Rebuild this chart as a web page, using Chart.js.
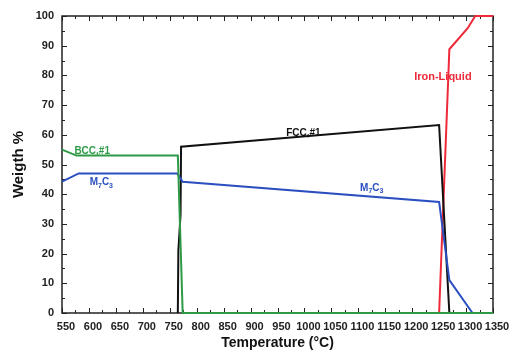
<!DOCTYPE html>
<html>
<head>
<meta charset="utf-8">
<script src="https://cdn.jsdelivr.net/npm/chart.js@4.4.0/dist/chart.umd.min.js"></script>
<style>
  body { margin: 0; background: #fff; }
  #wrap { width: 514px; height: 352px; }
</style>
</head>
<body>
<div id="wrap"><canvas id="phase" width="514" height="352"></canvas></div>
<script>
// temperature (°C) and weight %
const bccT = [550, 577, 765, 774, 1350];
const bccW = [55, 53, 53, 0, 0];
const m7c3T = [550, 581, 764, 774, 1250, 1269, 1312, 1350];
const m7c3W = [44.2, 47, 47, 44.2, 37.4, 11.1, 0, 0];
const fccT = [765, 766, 770, 771, 1250, 1269, 1350];
const fccW = [0, 21, 33, 56, 63.3, 0, 0];
const liqT = [1250, 1269, 1303, 1317, 1350];
const liqW = [0, 88.8, 95.9, 100, 100];

// curve labels ("_" marks a subscript digit)
const labelText = ["BCC,#1", "M_7C_3", "FCC,#1", "M_7C_3", "Iron-Liquid"];
const labelT = [606, 623, 998, 1125, 1257];
const labelW = [54.6, 43.9, 60.5, 42.1, 79.6];

const GREEN = "#2e9a46", BLUE = "#2b4fc0", BLACK = "#111111", RED = "#ee2a3a";
const labelColor = [GREEN, BLUE, BLACK, BLUE, RED];
const FONT = "'Liberation Sans', Arial, sans-serif";

function pts(xs, ys) {
  return xs.map((t, i) => ({ x: t, y: ys[i] }));
}

function line(label, xs, ys, color) {
  return {
    label: label,
    data: pts(xs, ys),
    borderColor: color,
    backgroundColor: color,
    borderWidth: 2,
    pointRadius: 0,
    tension: 0,
    clip: false,
  };
}

function drawLabel(ctx, text, cx, cy, color, size) {
  // split into normal / subscript pieces
  let parts = [];
  for (let i = 0; i < text.length; i++) {
    if (text[i] === "_") { parts.push({ s: text[i + 1], sub: true }); i++; }
    else parts.push({ s: text[i], sub: false });
  }
  const big = "bold " + size + "px " + FONT;
  const small = "bold " + Math.round(size * 0.7) + "px " + FONT;
  let w = 0;
  parts.forEach(p => { ctx.font = p.sub ? small : big; p.w = ctx.measureText(p.s).width; w += p.w; });
  let x = cx - w / 2;
  ctx.fillStyle = color;
  ctx.textBaseline = "middle";
  ctx.textAlign = "left";
  parts.forEach(p => {
    ctx.font = p.sub ? small : big;
    ctx.fillText(p.s, x, p.sub ? cy + size * 0.3 : cy);
    x += p.w;
  });
}

const frame = {
  id: "frame",
  beforeDatasetsDraw(chart) {
    const { ctx, chartArea: a, scales: { x, y } } = chart;
    ctx.save();
    ctx.strokeStyle = "#222";
    ctx.lineWidth = 1;
    ctx.beginPath();
    for (let t = x.min; t <= x.max; t += 25) {
      const px = Math.round(x.getPixelForValue(t)) + 0.5;
      const len = (t - x.min) % 50 === 0 ? 5 : 3;
      ctx.moveTo(px, a.bottom); ctx.lineTo(px, a.bottom - len);
      ctx.moveTo(px, a.top); ctx.lineTo(px, a.top + len);
    }
    for (let v = y.min; v <= y.max; v += 5) {
      const py = Math.round(y.getPixelForValue(v)) + 0.5;
      const len = v % 10 === 0 ? 5 : 3;
      ctx.moveTo(a.left, py); ctx.lineTo(a.left + len, py);
      ctx.moveTo(a.right, py); ctx.lineTo(a.right - len, py);
    }
    ctx.stroke();
    ctx.lineWidth = 1.5;
    ctx.strokeRect(a.left, a.top, a.right - a.left, a.bottom - a.top);
    ctx.restore();
  },
  afterDatasetsDraw(chart) {
    const { ctx, scales: { x, y } } = chart;
    ctx.save();
    labelText.forEach((txt, i) => {
      const size = txt === "Iron-Liquid" ? 11 : 10;
      drawLabel(ctx, txt, x.getPixelForValue(labelT[i]), y.getPixelForValue(labelW[i]), labelColor[i], size);
    });
    ctx.restore();
  },
};

const tickFont = { family: FONT, size: 11, weight: "bold" };

new Chart(document.getElementById("phase"), {
  type: "line",
  data: {
    datasets: [
      line("BCC_A2#1", bccT, bccW, GREEN),
      line("M7C3", m7c3T, m7c3W, BLUE),
      line("FCC_A1#1", fccT, fccW, BLACK),
      line("Iron-Liquid", liqT, liqW, RED),
    ],
  },
  options: {
    responsive: false,
    devicePixelRatio: 1,
    animation: false,
    layout: { padding: { top: 16, right: 21, left: 0, bottom: 0 } },
    plugins: { legend: { display: false }, tooltip: { enabled: false } },
    scales: {
      x: {
        type: "linear",
        min: 550,
        max: 1350,
        grid: { display: false, drawTicks: false },
        border: { display: false },
        ticks: {
          stepSize: 50, autoSkip: false, maxRotation: 0, font: tickFont, color: "#222", padding: 7, labelOffset: 4,
          callback: v => String(v),
        },
        title: { display: true, text: "Temperature (°C)", color: "#111", font: { family: FONT, size: 14, weight: "bold" }, padding: { top: 0, bottom: 0 } },
        afterFit(s) { s.height = 39; },
      },
      y: {
        min: 0,
        max: 100,
        grid: { display: false, drawTicks: false },
        border: { display: false },
        ticks: { stepSize: 10, font: tickFont, color: "#222", padding: 8 },
        title: { display: true, text: "Weigth %", color: "#111", font: { family: FONT, size: 15, weight: "bold" }, padding: { top: 10, bottom: 0 } },
        afterFit(s) { s.width = 62; },
      },
    },
  },
  plugins: [frame],
});
</script>
</body>
</html>
